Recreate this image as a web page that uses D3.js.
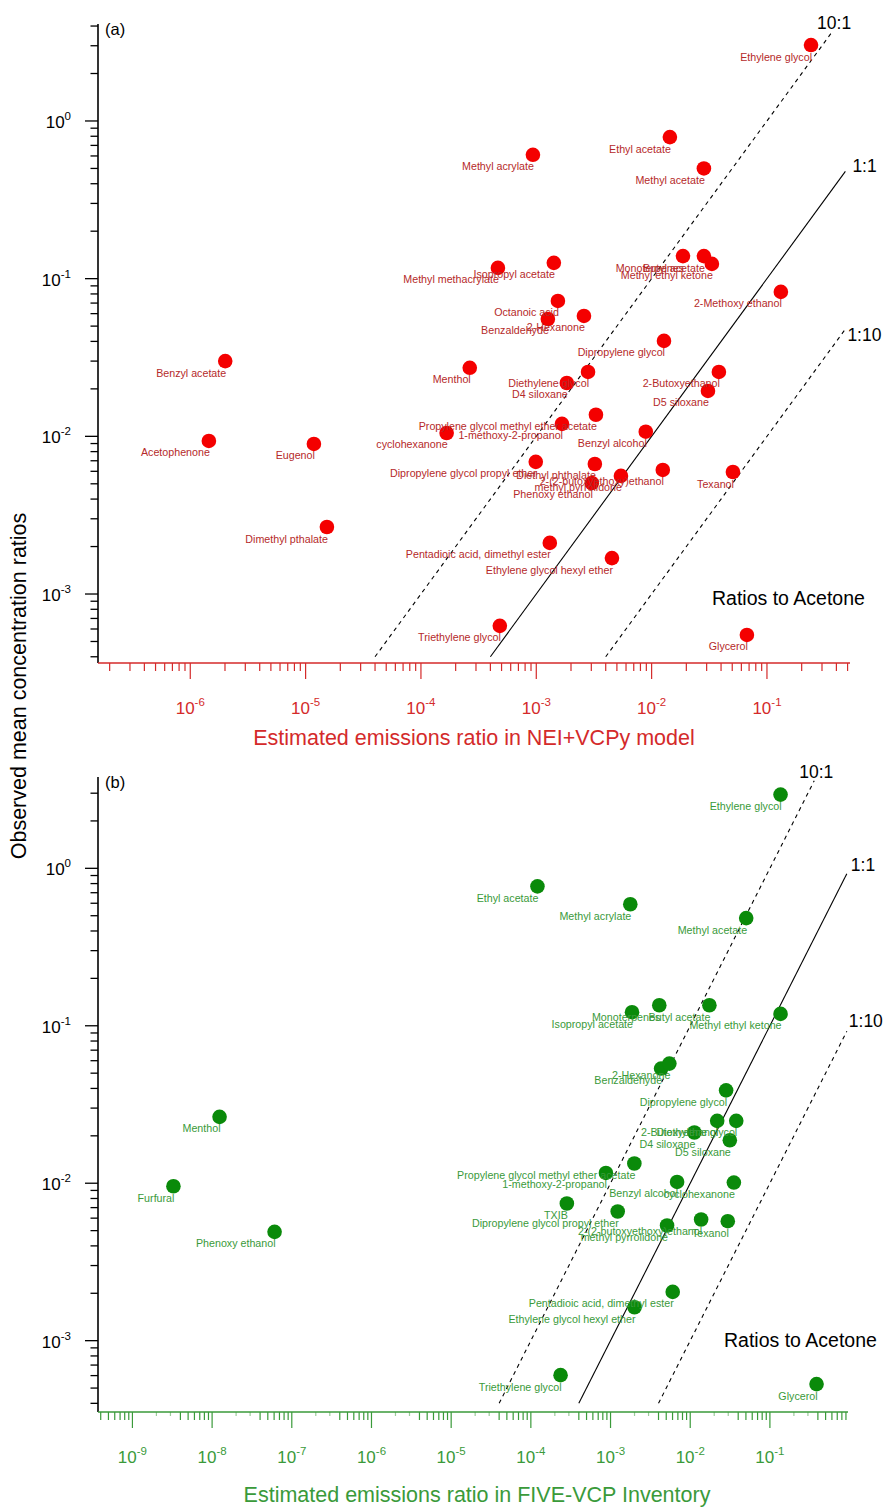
<!DOCTYPE html>
<html><head><meta charset="utf-8">
<script src="https://cdn.jsdelivr.net/npm/d3@7/dist/d3.min.js"></script>
<style>body{margin:0;background:#fff;} text{font-family:Arial,"Liberation Sans",sans-serif;}</style>
</head><body><svg id="c" width="889" height="1508"></svg>
<script>
// ---------- Panel (a): NEI+VCPy ----------
const namesA = ["Ethylene glycol","Ethyl acetate","Methyl acrylate","Methyl acetate","Monoterpenes","Butyl acetate","Methyl ethyl ketone","2-Methoxy ethanol","Methyl methacrylate","Isopropyl acetate","Octanoic acid","Benzaldehyde","2-Hexanone","Dipropylene glycol","Menthol","Benzyl acetate","Diethylene glycol","D4 siloxane","2-Butoxyethanol","D5 siloxane","Propylene glycol methyl ether acetate","1-methoxy-2-propanol","cyclohexanone","Benzyl alcohol","Dipropylene glycol propyl ether","Diethyl phthalate","2-(2-butoxyethoxy)ethanol","Texanol","methyl pyrrolidone","Phenoxy ethanol","Pentadioic acid, dimethyl ester","Ethylene glycol hexyl ether","Acetophenone","Eugenol","Dimethyl pthalate","Triethylene glycol","Glycerol"];
const emisA = [0.241,0.0144,9.35e-4,0.0284,0.0187,0.0284,0.0333,0.132,4.65e-4,1.42e-3,1.54e-3,1.26e-3,2.59e-3,0.0128,2.65e-4,2.01e-6,2.81e-3,1.84e-3,0.0383,0.0308,3.29e-3,1.67e-3,1.67e-4,8.9e-3,9.9e-4,3.22e-3,0.0125,0.0507,5.42e-3,3.03e-3,1.31e-3,4.53e-3,1.45e-6,1.18e-5,1.53e-5,4.83e-4,0.067];
const obsA  = [3.03,0.79,0.61,0.50,0.139,0.139,0.124,0.0824,0.117,0.126,0.0722,0.0555,0.058,0.0403,0.0272,0.030,0.0256,0.0218,0.0256,0.0194,0.0137,0.0120,0.0105,0.0107,6.89e-3,6.68e-3,6.12e-3,5.94e-3,5.61e-3,5.06e-3,2.11e-3,1.69e-3,9.35e-3,8.95e-3,2.66e-3,6.28e-4,5.5e-4];

// ---------- Panel (b): FIVE-VCP ----------
const namesB = ["Ethylene glycol","Ethyl acetate","Methyl acrylate","Methyl acetate","Isopropyl acetate","Monoterpenes","Butyl acetate","Methyl ethyl ketone","Benzaldehyde","2-Hexanone","Dipropylene glycol","2-Butoxyethanol","Diethylene glycol","D4 siloxane","D5 siloxane","Propylene glycol methyl ether acetate","1-methoxy-2-propanol","Benzyl alcohol","cyclohexanone","TXIB","Dipropylene glycol propyl ether","2-(2-butoxyethoxy)ethanol","methyl pyrrolidone","Texanol","Menthol","Furfural","Phenoxy ethanol","Pentadioic acid, dimethyl ester","Ethylene glycol hexyl ether","Triethylene glycol","Glycerol"];
const emisB = [0.136,1.21e-4,1.77e-3,0.0504,1.86e-3,4.09e-3,0.0174,0.136,4.31e-3,5.47e-3,0.0282,0.0218,0.0378,0.01127,0.0314,1.99e-3,8.75e-4,6.84e-3,0.0353,2.83e-4,1.23e-3,0.0137,5.12e-3,0.0296,1.24e-8,3.27e-9,6.08e-8,6.03e-3,2.0e-3,2.36e-4,0.385];
const obsB  = [2.94,0.768,0.591,0.483,0.122,0.135,0.135,0.119,0.0535,0.0575,0.0389,0.0249,0.0249,0.0210,0.01875,0.01334,0.01162,0.01019,0.01010,7.43e-3,6.61e-3,5.88e-3,5.39e-3,5.74e-3,0.0264,9.57e-3,4.91e-3,2.04e-3,1.63e-3,6.04e-4,5.3e-4];

// ---------- Reference lines & ticks ----------
const ratios = [10, 1, 0.1];
const ratioLabels = ["10:1", "1:1", "1:10"];
const ratioDashed = [true, false, true];
const xDecadesA = [-6, -5, -4, -3, -2, -1];
const xDecadesB = [-9, -8, -7, -6, -5, -4, -3, -2, -1];
const yDecades = [0, -1, -2, -3];
const xTitleA = "Estimated emissions ratio in NEI+VCPy model";
const xTitleB = "Estimated emissions ratio in FIVE-VCP Inventory";
const yTitle = "Observed mean concentration ratios";

const svg = d3.select("#c");

function panel(cfg) {
  const g = svg.append("g");
  const x = d3.scaleLog().domain(cfg.xDom).range([cfg.x0, cfg.x1]);
  const y = d3.scaleLog().domain(cfg.yDom).range([cfg.y1, cfg.y0]);

  function logTicks(dom) {
    const out = [];
    const lo = Math.floor(Math.log10(dom[0])), hi = Math.ceil(Math.log10(dom[1]));
    for (let d = lo; d <= hi; d++) for (let m = 1; m <= 9; m++) {
      const v = m * Math.pow(10, d);
      if (v >= dom[0] * 0.999 && v <= dom[1] * 1.001) out.push({v, major: m === 1, m});
    }
    return out;
  }

  // reference lines
  ratios.forEach((r, i) => {
    const ys = cfg.lineYmin, xs = ys / r;
    let xe = cfg.lineXmax, ye = xe * r;
    if (ye > cfg.lineYmax) { ye = cfg.lineYmax; xe = ye / r; }
    g.append("line")
      .attr("x1", x(xs)).attr("y1", y(ys)).attr("x2", x(xe)).attr("y2", y(ye))
      .attr("stroke", "#000").attr("stroke-width", 1.1)
      .attr("stroke-dasharray", ratioDashed[i] ? "4,4" : null);
    const off = cfg.ratioOff[i];
    g.append("text").attr("x", x(xe) + off[0]).attr("y", y(ye) + off[1])
      .attr("text-anchor", off[2]).attr("font-size", 17.5).attr("fill", "#000")
      .text(ratioLabels[i]);
  });

  // points
  const data = cfg.names.map((n, i) => ({n, e: cfg.emis[i], o: cfg.obs[i]}));
  g.selectAll("circle.pt").data(data).enter().append("circle")
    .attr("cx", d => x(d.e)).attr("cy", d => y(d.o)).attr("r", 7.3)
    .attr("fill", cfg.ptColor);
  g.selectAll("text.lab").data(data).enter().append("text")
    .attr("x", d => x(d.e) + 1).attr("y", d => y(d.o) + 15.5)
    .attr("text-anchor", "end").attr("font-size", 10.7).attr("fill", cfg.labColor)
    .text(d => d.n);

  // y axis
  g.append("line").attr("x1", cfg.x0).attr("x2", cfg.x0).attr("y1", cfg.y0).attr("y2", cfg.y1)
    .attr("stroke", "#000").attr("stroke-width", 1.6);
  logTicks(cfg.yDom).forEach(t => {
    g.append("line").attr("x1", cfg.x0 - (t.major ? 13 : 7.5)).attr("x2", cfg.x0)
      .attr("y1", y(t.v)).attr("y2", y(t.v)).attr("stroke", "#000").attr("stroke-width", 1.3);
  });
  yDecades.forEach(d => {
    const t = g.append("text").attr("x", 71).attr("y", y(Math.pow(10, d)) + 7)
      .attr("text-anchor", "end").attr("font-size", 17).attr("fill", "#000");
    t.append("tspan").text("10");
    t.append("tspan").attr("dy", -8).attr("font-size", 11.5).text(String(d));
  });

  // x axis
  g.append("line").attr("x1", cfg.x0).attr("x2", cfg.x1).attr("y1", cfg.y1).attr("y2", cfg.y1)
    .attr("stroke", cfg.axColor).attr("stroke-width", 1.6);
  logTicks(cfg.xDom).forEach(t => {
    const faint = cfg.faintMinor && (t.m === 2 || t.m === 3);
    g.append("line").attr("x1", x(t.v)).attr("x2", x(t.v))
      .attr("y1", cfg.y1).attr("y2", cfg.y1 + (t.major ? 16 : (faint ? 4 : 8)))
      .attr("stroke", cfg.axColor).attr("stroke-width", 1.2)
      .attr("opacity", faint ? 0.5 : 1);
  });
  cfg.xDecades.forEach(d => {
    const t = g.append("text").attr("x", x(Math.pow(10, d))).attr("y", cfg.y1 + cfg.xLabDy)
      .attr("text-anchor", "middle").attr("font-size", 17).attr("fill", cfg.axColor);
    t.append("tspan").text("10");
    t.append("tspan").attr("dy", -8).attr("font-size", 11.5).text(String(d));
  });
  g.append("text").attr("x", cfg.titleX).attr("y", cfg.titleY).attr("text-anchor", "middle")
    .attr("font-size", 21.5).attr("fill", cfg.axColor).text(cfg.xTitle);

  // panel tag and note
  g.append("text").attr("x", cfg.x0 + 7).attr("y", cfg.y0 + 11).attr("font-size", 16.5).attr("fill", "#000").text(cfg.tag);
  g.append("text").attr("x", cfg.noteX).attr("y", cfg.noteY).attr("font-size", 19.5).attr("fill", "#000").text("Ratios to Acetone");
}

panel({
  names: namesA, emis: emisA, obs: obsA,
  xDom: [Math.pow(10, -6.80), Math.pow(10, -0.28)], yDom: [Math.pow(10, -3.4375), Math.pow(10, 0.615)],
  x0: 98, x1: 850, y0: 24, y1: 663,
  lineYmin: 4e-4, lineYmax: 3.6, lineXmax: Math.pow(10, -0.32),
  ratioOff: [[3, -4, "middle"], [7, 1, "start"], [2, 12, "start"]],
  ptColor: "#f40000", labColor: "#b52a2a", axColor: "#d42a2a",
  xDecades: xDecadesA, xLabDy: 51, xTitle: xTitleA, titleX: 474, titleY: 745,
  tag: "(a)", noteX: 712, noteY: 605, faintMinor: false
});

panel({
  names: namesB, emis: emisB, obs: obsB,
  xDom: [Math.pow(10, -9.432), Math.pow(10, -0.02)], yDom: [Math.pow(10, -3.453), Math.pow(10, 0.58)],
  x0: 98, x1: 848, y0: 777, y1: 1412,
  lineYmin: 4e-4, lineYmax: 3.6, lineXmax: Math.pow(10, -0.035),
  ratioOff: [[2, -3, "middle"], [4, -3, "start"], [2, -4, "start"]],
  ptColor: "#0a8a0a", labColor: "#3a9a3a", axColor: "#3a9a3a",
  xDecades: xDecadesB, xLabDy: 51, xTitle: xTitleB, titleX: 477, titleY: 1502,
  tag: "(b)", noteX: 724, noteY: 1347, faintMinor: true
});

// shared y title
svg.append("text").attr("transform", "translate(26,686) rotate(-90)")
  .attr("text-anchor", "middle").attr("font-size", 21.5).attr("fill", "#000").text(yTitle);
</script></body></html>
